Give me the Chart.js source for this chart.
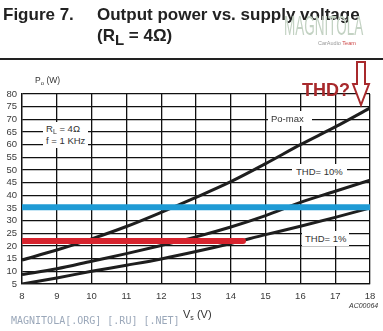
<!DOCTYPE html>
<html>
<head>
<meta charset="utf-8">
<script src="https://cdn.jsdelivr.net/npm/chart.js@4.4.1/dist/chart.umd.min.js"></script>
<style>
  body { margin: 0; background: #fff; font-family: Arial, "Liberation Sans", sans-serif; }
  #wrap { position: relative; width: 383px; height: 331px; overflow: hidden; }
  #mycanvas { position: absolute; left: 0; top: 0; }
  .t { position: absolute; white-space: nowrap; color: #222; }
  .lbl { position: absolute; white-space: nowrap; background: #fff; color: #333; font-size: 9.5px; }
</style>
</head>
<body>
<div id="wrap">
  <canvas id="mycanvas" width="383" height="331"></canvas>

  <div class="t" style="left:3px; top:5px; font-size:17px; font-weight:bold;">Figure 7.</div>
  <div class="t" style="left:97px; top:5px; font-size:17px; font-weight:bold;">Output power vs. supply voltage</div>
  <div class="t" style="left:97px; top:26px; font-size:17px; font-weight:bold;">(R<span style="font-size:15px; position:relative; top:4px;">L</span> = 4&Omega;)</div>
  <div style="position:absolute; left:0; top:58px; width:383px; height:1.5px; background:#222;"></div>

  <div class="t" style="left:284px; top:11px; font-size:27px; color:#c3d2c3; transform:scaleX(0.5); transform-origin:left;">MAGNITOLA</div>
  <div class="t" style="left:318px; top:40px; font-size:5.5px; color:#999;">CarAudio <span style="color:#c44;">Team</span></div>

  <div class="t" style="left:35px; top:75px; font-size:8.5px; color:#333;">P<span style="font-size:6px; position:relative; top:2px;">o</span> (W)</div>
  <div class="t" style="left:302px; top:80px; font-size:18px; font-weight:bold; color:#a8292c;">THD?</div>
  <svg style="position:absolute; left:0; top:0;" width="383" height="331">
    <path d="M357,62 L365,62 L365,84 L369,84 L361,105 L353,84 L357,84 Z" fill="#fff" stroke="#a8292c" stroke-width="2"/>
  </svg>

  <div class="lbl" style="left:43px; top:122px; padding:1px 3px 2px 3px; line-height:11px;">R<span style="font-size:7px; position:relative; top:2px;">L</span> = 4&Omega;<br>f = 1 KHz</div>
  <div class="lbl" style="left:268px; top:111px; padding:2px 3px; line-height:11px; width:38px;">Po-max</div>
  <div class="lbl" style="left:292px; top:164px; padding:2px 4px; line-height:11px;">THD= 10%</div>
  <div class="lbl" style="left:302px; top:231px; padding:2px 3px; line-height:11px;">THD= 1%</div>

  <div class="t" style="left:183px; top:308px; font-size:11px; color:#333;">V<span style="font-size:7px; position:relative; top:2px;">s</span> (V)</div>
  <div class="t" style="left:349px; top:302px; font-size:7px; font-style:italic; color:#333;">AC00064</div>
  <div class="t" style="left:11px; top:315px; font-size:10px; font-family:'DejaVu Sans Mono', monospace; color:#9ba8ba;">MAGNITOLA[.ORG] [.RU] [.NET]</div>
</div>

<script>
var voltages = [8, 9, 10, 11, 12, 13, 14, 15, 16, 17, 18];
var poMax    = [14.5, 18.4, 22.8, 27.7, 33.3, 39.2, 45.4, 52.5, 60, 67, 74.5];
var thd10    = [8.7, 11, 14, 17, 20.2, 23.6, 27.5, 32, 37.2, 41.6, 46];
var thd1     = [5, 7.4, 10, 12.4, 14.9, 17.8, 21.0, 24.5, 27.8, 31.3, 35];
var blueLevel = 35.3, blueFrom = 8, blueTo = 18;
var redLevel = 22, redFrom = 8, redTo = 14.35;
var xTicks = [8, 18, 1];
var yTicks = [5, 80, 5];

function pts(ys) {
  return voltages.map(function (v, i) { return { x: v, y: ys[i] }; });
}

var ctx = document.getElementById("mycanvas").getContext("2d");
Chart.defaults.font.family = 'Arial, "Liberation Sans", sans-serif';

var curve = {
  borderColor: "#1e1e1e",
  borderWidth: 3,
  pointRadius: 0,
  cubicInterpolationMode: "monotone",
  fill: false
};

new Chart(ctx, {
  type: "line",
  data: {
    datasets: [
      { data: [{ x: blueFrom, y: blueLevel }, { x: blueTo, y: blueLevel }],
        borderColor: "#1f9bd5", borderWidth: 6, pointRadius: 0 },
      { data: [{ x: redFrom, y: redLevel }, { x: redTo, y: redLevel }],
        borderColor: "#d7232d", borderWidth: 6, pointRadius: 0, borderCapStyle: "round" },
      Object.assign({ data: pts(poMax) }, curve),
      Object.assign({ data: pts(thd10) }, curve),
      Object.assign({ data: pts(thd1) }, curve)
    ]
  },
  options: {
    responsive: false,
    animation: false,
    layout: { padding: { top: 94, right: 13, left: 0, bottom: 0 } },
    plugins: { legend: { display: false }, tooltip: { enabled: false } },
    scales: {
      x: {
        type: "linear",
        min: xTicks[0], max: xTicks[1],
        afterFit: function (s) { s.height = 47; },
        ticks: { stepSize: xTicks[2], autoSkip: false, color: "#3a3a3a", font: { size: 9.5 }, padding: 7, maxRotation: 0 },
        grid: { color: "#111", lineWidth: 1.3, drawTicks: false },
        border: { color: "#111", width: 1.3 }
      },
      y: {
        min: yTicks[0], max: yTicks[1],
        afterFit: function (s) { s.width = 22; },
        ticks: { stepSize: yTicks[2], autoSkip: false, color: "#3a3a3a", font: { size: 9.5 }, padding: 5 },
        grid: { color: "#111", lineWidth: 1.3, drawTicks: false },
        border: { color: "#111", width: 1.3 }
      }
    }
  }
});
</script>
</body>
</html>
